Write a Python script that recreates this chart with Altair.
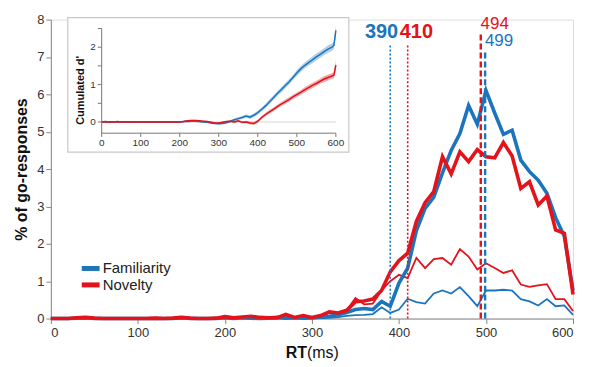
import altair as alt
import pandas as pd

# ---------------- data ----------------
rt = list(range(0, 601, 10))

fam_hits = [0, 0, 0, 0.01, 0.02, 0, 0, 0, 0, 0,
            0, 0, 0, 0, 0, 0.02, 0, 0, 0, 0,
            0.02, 0, 0.02, 0.01, 0, 0.01, 0.03, 0.01, 0.02, 0.01,
            0.02, 0.04, 0.06, 0.10, 0.16, 0.24, 0.27, 0.24, 0.46, 0.33,
            0.95, 1.35, 2.35, 2.95, 3.25, 3.90, 4.50, 4.95, 5.70, 5.20,
            6.10, 5.50, 4.93, 5.04, 4.24, 3.93, 3.70, 3.35, 2.70, 2.20,
            0.75]
nov_hits = [0, 0, 0, 0.02, 0.03, 0.01, 0, 0, 0, 0,
            0, 0, 0.01, 0, 0.01, 0.03, 0.01, 0, 0, 0.01,
            0.05, 0.02, 0.04, 0.06, 0.03, 0.02, 0.02, 0.11, 0.03, 0.08,
            0.03, 0.08, 0.18, 0.15, 0.22, 0.45, 0.47, 0.52, 0.75, 1.25,
            1.55, 1.75, 2.60, 3.10, 3.40, 4.33, 3.87, 4.46, 4.20, 4.52,
            4.33, 4.30, 4.71, 4.35, 3.48, 3.66, 3.04, 3.28, 2.37, 2.28,
            0.64]
fam_fa = [0, 0, 0, 0, 0.01, 0, 0, 0, 0, 0,
          0, 0, 0, 0, 0, 0.01, 0, 0, 0, 0,
          0.01, 0, 0.01, 0, 0, 0, 0.01, 0, 0.01, 0,
          0, 0.01, 0.02, 0.04, 0.07, 0.09, 0.10, 0.12, 0.30, 0.15,
          0.24, 0.53, 0.44, 0.40, 0.67, 0.75, 0.67, 0.84, 0.60, 0.33,
          0.75, 0.75, 0.77, 0.75, 0.52, 0.46, 0.35, 0.52, 0.33, 0.35,
          0.10]
nov_fa = [0, 0, 0, 0.01, 0.02, 0, 0, 0, 0, 0,
          0, 0, 0, 0, 0, 0.02, 0, 0, 0, 0,
          0.03, 0.01, 0.03, 0.04, 0.02, 0.01, 0.02, 0.08, 0.02, 0.05,
          0.03, 0.06, 0.15, 0.12, 0.22, 0.55, 0.38, 0.40, 0.75, 1.00,
          1.17, 1.08, 1.62, 1.35, 1.59, 1.62, 1.44, 1.86, 1.66, 1.31,
          1.48, 1.35, 1.22, 1.29, 0.91, 0.85, 0.89, 0.92, 0.52, 0.52,
          0.20]

# inset: cumulated d'
rt_in = list(range(0, 600, 10)) + [595, 600]
fam_d = [0, 0.01, 0, 0, 0.01, 0, 0, 0, 0, 0,
         0, 0, 0, 0, 0, 0, 0, 0, 0, 0,
         0, 0.01, 0.01, 0.02, 0.02, 0.01, 0, -0.01, -0.03, -0.04,
         -0.05, -0.04, -0.02, 0.02, 0.06, 0.09, 0.12, 0.16, 0.13, 0.18,
         0.25, 0.34, 0.43, 0.54, 0.65, 0.76, 0.86, 0.97, 1.07, 1.19,
         1.31, 1.42, 1.51, 1.59, 1.66, 1.74, 1.81, 1.88, 1.95, 2.00,
         2.05, 2.45]
nov_d = [0, 0, 0, 0, 0, 0, 0, 0, 0, 0,
         0, 0, 0, 0, 0, 0, 0, 0, 0, 0,
         0, 0.01, 0.03, 0.04, 0.04, 0.03, 0.02, 0.01, -0.01, -0.03,
         -0.03, -0.01, 0.01, 0.02, 0.0, 0.03, -0.01, 0.0, -0.03, -0.04,
         0.02, 0.12, 0.20, 0.27, 0.34, 0.41, 0.48, 0.54, 0.60, 0.67,
         0.73, 0.79, 0.86, 0.92, 0.98, 1.03, 1.09, 1.15, 1.19, 1.23,
         1.25, 1.52]
fam_ci = [0.02] * 33 + [0.03, 0.03, 0.04, 0.04, 0.04, 0.05, 0.05,
                        0.05, 0.05, 0.06, 0.06, 0.06, 0.06, 0.07, 0.07, 0.07, 0.07,
                        0.08, 0.08, 0.08, 0.08, 0.09, 0.09, 0.09, 0.09, 0.10, 0.10,
                        0.10, 0.14]
nov_ci = [0.02] * 33 + [0.02, 0.03, 0.03, 0.03, 0.03, 0.04, 0.04,
                        0.04, 0.04, 0.05, 0.05, 0.05, 0.05, 0.05, 0.06, 0.06, 0.06,
                        0.06, 0.06, 0.07, 0.07, 0.07, 0.07, 0.07, 0.08, 0.08, 0.08,
                        0.08, 0.12]
inset_xticks = [0, 100, 200, 300, 400, 500, 600]
inset_yticks = [0, 0.5, 1, 1.5, 2, 2.5]
inset_ylabels = [0, 1, 2]

series_names = ["Familiarity", "Novelty"]
series_colors = ["#1c75bc", "#e3121b"]

# legend placement (in main-chart data units)
legend_y = [1.34, 0.90]
legend_x0, legend_x1, legend_tx = 35.5, 56, 59.5

# vertical markers
marker_rt = [390, 410, 494, 499]
marker_top = [7.36, 7.36, 7.63, 7.17]
marker_series = ["Familiarity", "Novelty", "Novelty", "Familiarity"]
marker_style = ["dot", "dot", "dash", "dash"]

# marker labels
label_text = ["390", "410", "494", "499"]
label_rt = [380, 420, 510, 515]
label_y = [7.52, 7.52, 7.76, 7.30]
label_series = ["Familiarity", "Novelty", "Novelty", "Familiarity"]
label_bold = [True, True, False, False]

# ---------------- tables ----------------
rows = []
for s, hits, fa in [("Familiarity", fam_hits, fam_fa), ("Novelty", nov_hits, nov_fa)]:
    for t, h, f in zip(rt, hits, fa):
        rows.append(dict(rt=t, value=h, series=s, kind="hits"))
        rows.append(dict(rt=t, value=f, series=s, kind="fa"))
main_df = pd.DataFrame(rows)

marker_df = pd.DataFrame(dict(rt=marker_rt, top=marker_top, value=[0] * 4,
                              series=marker_series, style=marker_style))
label_df = pd.DataFrame(dict(rt=label_rt, value=label_y, text=label_text,
                             series=label_series, bold=label_bold))
legend_df = pd.DataFrame(dict(series=series_names, value=legend_y,
                              rt=[legend_x0] * 2, rt2=[legend_x1] * 2, tx=[legend_tx] * 2))

irows = []
for s, d, c in [("Familiarity", fam_d, fam_ci), ("Novelty", nov_d, nov_ci)]:
    for t, v, e in zip(rt_in, d, c):
        irows.append(dict(rt=t, dprime=v, lo=v - e, hi=v + e, series=s))
inset_df = pd.DataFrame(irows)

y_lo, y_hi = -0.3, 2.5
zero_df = pd.DataFrame(dict(rt=[0], rt2=[600], dprime=[0]))
xdom_df = pd.DataFrame(dict(rt=[0], rt2=[600], dprime=[y_lo]))
ydom_df = pd.DataFrame(dict(rt=[0], dprime=[y_lo], dprime2=[y_hi]))
xtick_df = pd.DataFrame(dict(rt=inset_xticks, dprime=[y_lo] * len(inset_xticks),
                             dprime2=[y_lo - 0.1] * len(inset_xticks),
                             lab=[str(v) for v in inset_xticks]))
ytick_df = pd.DataFrame(dict(rt=[-10] * len(inset_yticks), rt2=[0] * len(inset_yticks),
                             dprime=inset_yticks))
ylab_df = pd.DataFrame(dict(rt=[0] * len(inset_ylabels), dprime=inset_ylabels,
                            lab=[str(v) for v in inset_ylabels]))

# ---------------- encodings ----------------
cscale = alt.Scale(domain=series_names, range=series_colors)
color_enc = alt.Color("series:N", scale=cscale, legend=None)

x_axis = alt.Axis(values=[0, 100, 200, 300, 400, 500, 600], title=None,
                  labelFontSize=13, tickSize=5, grid=False, labelPadding=3)
x_scale = alt.Scale(domain=[0, 600], nice=False)
x_main = alt.X("rt:Q", scale=x_scale, axis=x_axis)
y_main = alt.Y("value:Q", scale=alt.Scale(domain=[0, 8], nice=False),
               axis=alt.Axis(values=list(range(9)), title="% of go-responses",
                             titleFontSize=16, titleFontWeight="bold", titleColor="#111",
                             labelFontSize=13, tickSize=5, grid=False, labelPadding=2,
                             titlePadding=7))

thin = alt.Chart(main_df).transform_filter(alt.datum.kind == "fa").mark_line(
    strokeWidth=1.8).encode(x=x_main, y=y_main, color=color_enc)
thick = alt.Chart(main_df).transform_filter(alt.datum.kind == "hits").mark_line(
    strokeWidth=3.6).encode(x=x_main, y=y_main, color=color_enc)

dots = alt.Chart(marker_df).transform_filter(alt.datum.style == "dot").mark_rule(
    strokeWidth=1.6, strokeDash=[2, 2]).encode(x=x_main, y=y_main, y2="top:Q", color=color_enc)
dashes = alt.Chart(marker_df).transform_filter(alt.datum.style == "dash").mark_rule(
    strokeWidth=2.4, strokeDash=[6, 3]).encode(x=x_main, y=y_main, y2="top:Q", color=color_enc)

lab_bold = alt.Chart(label_df).transform_filter(alt.datum.bold).mark_text(
    fontSize=20, fontWeight="bold", align="center", baseline="alphabetic").encode(
    x=x_main, y=y_main, text="text:N", color=color_enc)
lab_norm = alt.Chart(label_df).transform_filter(~alt.datum.bold).mark_text(
    fontSize=17, align="center", baseline="alphabetic").encode(
    x=x_main, y=y_main, text="text:N", color=color_enc)

leg_sym = alt.Chart(legend_df).mark_rule(strokeWidth=5).encode(
    x=x_main, x2="rt2:Q", y=y_main, color=color_enc)
leg_txt = alt.Chart(legend_df).mark_text(
    fontSize=15, align="left", baseline="middle", color="#222").encode(
    x=alt.X("tx:Q", scale=x_scale, axis=x_axis), y=y_main, text="series:N")

title_df = pd.DataFrame(dict(a=["RT"], b=["(ms)"]))
rt_title = alt.Chart(title_df).mark_text(
    fontSize=16, fontWeight="bold", align="right", baseline="alphabetic", color="#111").encode(
    text="a:N", x=alt.value(257), y=alt.value(340))
ms_title = alt.Chart(title_df).mark_text(
    fontSize=16, align="left", baseline="alphabetic", color="#111").encode(
    text="b:N", x=alt.value(257), y=alt.value(340))

main = alt.layer(thin, thick, dots, dashes, lab_bold, lab_norm, leg_sym, leg_txt,
                 rt_title, ms_title)

# ---------------- inset (own scales mapped into a sub-region) ----------------
xs_in = alt.Scale(domain=[0, 600], range=[51, 286], nice=False)
ys_in = alt.Scale(domain=[y_lo, y_hi], range=[114, 9], nice=False, zero=False)


def xi(field):
    return alt.X(field, scale=xs_in, axis=None)


def yi(field):
    return alt.Y(field, scale=ys_in, axis=None)


box = alt.Chart(pd.DataFrame(dict(k=[0]))).mark_rect(
    fill="white", stroke="#c8c8c8", strokeWidth=1.2).encode(
    x=alt.value(17), x2=alt.value(299), y=alt.value(-2), y2=alt.value(133))
zero = alt.Chart(zero_df).mark_rule(color="#e4e4e4", strokeWidth=1.5).encode(
    x=xi("rt:Q"), x2="rt2:Q", y=yi("dprime:Q"))
band = alt.Chart(inset_df).mark_area(opacity=0.35).encode(
    x=xi("rt:Q"), y=yi("lo:Q"), y2="hi:Q",
    fill=alt.Fill("series:N", scale=cscale, legend=None))
dline = alt.Chart(inset_df).mark_line(strokeWidth=1.5).encode(
    x=xi("rt:Q"), y=yi("dprime:Q"), color=color_enc)

axc = "#777"
xdom = alt.Chart(xdom_df).mark_rule(color=axc, strokeWidth=1).encode(
    x=xi("rt:Q"), x2="rt2:Q", y=yi("dprime:Q"))
ydom = alt.Chart(ydom_df).mark_rule(color=axc, strokeWidth=1).encode(
    x=xi("rt:Q"), y=yi("dprime:Q"), y2="dprime2:Q")
xticks = alt.Chart(xtick_df).mark_rule(color=axc, strokeWidth=1).encode(
    x=xi("rt:Q"), y=yi("dprime:Q"), y2="dprime2:Q")
yticks = alt.Chart(ytick_df).mark_rule(color=axc, strokeWidth=1).encode(
    x=xi("rt:Q"), x2="rt2:Q", y=yi("dprime:Q"))
xlabs = alt.Chart(xtick_df).mark_text(fontSize=10, color="#333", baseline="top", dy=5).encode(
    x=xi("rt:Q"), y=yi("dprime:Q"), text="lab:N")
ylabs = alt.Chart(ylab_df).mark_text(fontSize=10, color="#333", align="right",
                                     baseline="middle", dx=-6).encode(
    x=xi("rt:Q"), y=yi("dprime:Q"), text="lab:N")
ititle = alt.Chart(pd.DataFrame(dict(t=["Cumulated d'"]))).mark_text(
    fontSize=11, fontWeight="bold", angle=270, align="center", baseline="middle",
    color="#111").encode(text="t:N", x=alt.value(30), y=alt.value(71))

inset = alt.layer(box, zero, band, dline, xdom, ydom, xticks, yticks, xlabs, ylabs, ititle)

chart = alt.layer(main, inset).resolve_scale(x="independent", y="independent").properties(
    width=524, height=300,
    padding={"left": 43, "top": 11, "right": 8, "bottom": 44},
    autosize=alt.AutoSizeParams(type="none"),
).configure_view(stroke=None).configure(font="Liberation Sans").configure_axis(
    domainColor="#888", tickColor="#888", labelColor="#333")

chart.save("out.html", embed_options={"renderer": "svg", "actions": False})
